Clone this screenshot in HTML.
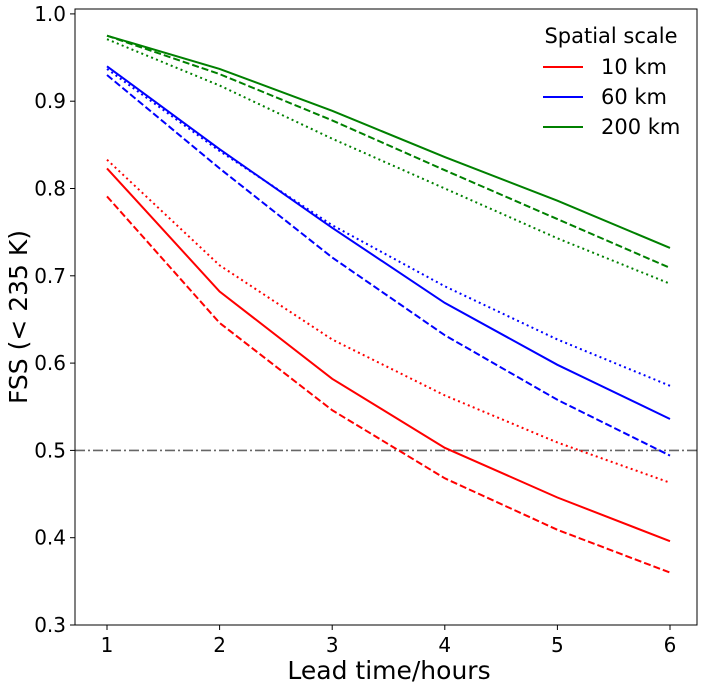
<!DOCTYPE html>
<html><head><meta charset="utf-8"><style>
body{margin:0;background:#fff;}
svg text{font-family:"DejaVu Sans","Liberation Sans",sans-serif;}
</style></head><body>
<svg id="chart" width="706" height="688" xmlns="http://www.w3.org/2000/svg">
<rect x="0" y="0" width="706" height="688" fill="#fff"/>
<g id="plot"></g>
</svg>
<script>
const leadTimes=[1,2,3,4,5,6];
const red10Solid=[0.823,0.682,0.582,0.503,0.446,0.396];
const red10Dashed=[0.791,0.646,0.546,0.468,0.409,0.360];
const red10Dotted=[0.833,0.712,0.627,0.563,0.509,0.463];
const blue60Solid=[0.940,0.845,0.755,0.669,0.598,0.536];
const blue60Dashed=[0.930,0.823,0.721,0.632,0.558,0.494];
const blue60Dotted=[0.937,0.843,0.758,0.688,0.627,0.574];
const green200Solid=[0.975,0.937,0.889,0.836,0.786,0.732];
const green200Dashed=[0.975,0.931,0.878,0.821,0.765,0.709];
const green200Dotted=[0.971,0.918,0.857,0.800,0.743,0.691];
const yTicks=[0.3,0.4,0.5,0.6,0.7,0.8,0.9,1.0];
const xTicks=[1,2,3,4,5,6];
const threshold=0.5;

const L=75,R=697,T=9,B=625;
const x=v=>107+(v-1)*112.6;
const y=v=>625-(v-0.3)*873;
const ns="http://www.w3.org/2000/svg";
const g=document.getElementById('plot');
function mk(tag,attrs){const e=document.createElementNS(ns,tag);for(const k in attrs)e.setAttribute(k,attrs[k]);g.appendChild(e);return e;}

let th=mk('line',{x1:L,x2:R,y1:y(threshold),y2:y(threshold),stroke:'#666','stroke-width':1.6,'stroke-dasharray':'10,3,2,3'});



const series=[
 [red10Solid,'red','','red-10km-solid'],[red10Dashed,'red','7,3','red-10km-dashed'],[red10Dotted,'red','2,3.3','red-10km-dotted'],
 [blue60Solid,'blue','','blue-60km-solid'],[blue60Dashed,'blue','7,3','blue-60km-dashed'],[blue60Dotted,'blue','2,3.3','blue-60km-dotted'],
 [green200Solid,'green','','green-200km-solid'],[green200Dashed,'green','7,3','green-200km-dashed'],[green200Dotted,'green','2,3.3','green-200km-dotted']];
series.forEach(s=>{
 const pts=s[0].map((v,i)=>x(leadTimes[i]).toFixed(1)+','+y(v).toFixed(1)).join(' ');
 const p=mk('polyline',{points:pts,fill:'none',stroke:s[1],'stroke-width':2,'stroke-dasharray':s[2]||'none'});
 
 
});

let fr=mk('rect',{x:L,y:T,width:R-L,height:B-T,fill:'none',stroke:'#000','stroke-width':1});



yTicks.forEach(v=>{
 mk('line',{x1:L-5,x2:L,y1:y(v),y2:y(v),stroke:'#000'});
 const t=mk('text',{x:L-9,y:y(v)+7,'text-anchor':'end','font-size':20});
 t.textContent=v.toFixed(1);
 
 
});
xTicks.forEach(v=>{
 mk('line',{x1:x(v),x2:x(v),y1:B,y2:B+5,stroke:'#000'});
 const t=mk('text',{x:x(v),y:B+27,'text-anchor':'middle','font-size':20});
 t.textContent=v;
 
 
});
let xt=mk('text',{x:389,y:679,'text-anchor':'middle','font-size':25});
xt.textContent='Lead time/hours';


let yt=mk('text',{x:0,y:0,'text-anchor':'middle','font-size':25,transform:'translate(27,'+((T+B)/2)+') rotate(-90)'});
yt.textContent='FSS (< 235 K)';



let lt=mk('text',{x:611,y:43,'text-anchor':'middle','font-size':21});
lt.textContent='Spatial scale';


[['red','10 km',67],['blue','60 km',97],['green','200 km',127]].forEach(e=>{
 const l=mk('line',{x1:543,x2:583,y1:e[2],y2:e[2],stroke:e[0],'stroke-width':2});
 
 
 const t=mk('text',{x:601,y:e[2]+7,'font-size':21});
 t.textContent=e[1];
 
 
});
</script>
</body></html>
